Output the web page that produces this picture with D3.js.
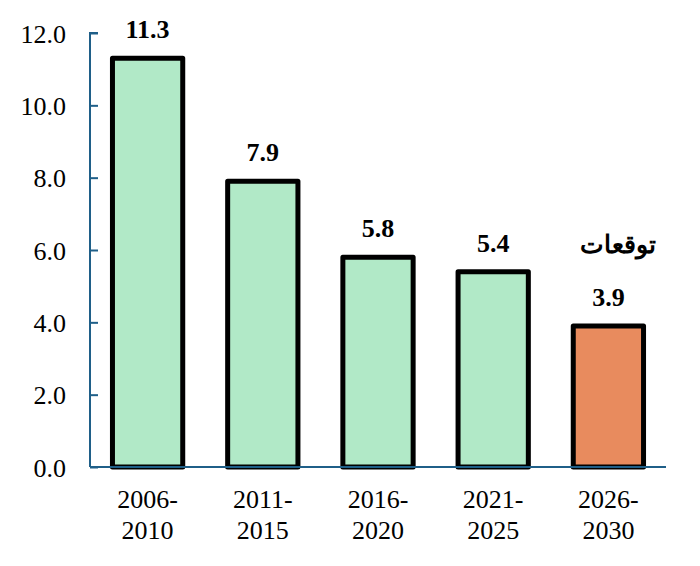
<!DOCTYPE html>
<html><head><meta charset="utf-8">
<script src="https://cdn.jsdelivr.net/npm/d3@7"></script>
<style>body{margin:0;background:#fff}</style>
</head><body>
<svg id="c" width="700" height="566"></svg>
<script>
const categories = [["2006-","2010"],["2011-","2015"],["2016-","2020"],["2021-","2025"],["2026-","2030"]];
const values = [11.3, 7.9, 5.8, 5.4, 3.9];
const valueLabels = ["11.3","7.9","5.8","5.4","3.9"];
const isForecast = [false,false,false,false,true];
const forecastLabel = "توقعات";
const yTicks = [0,2,4,6,8,10,12];

const svg = d3.select("#c");
const m = {left:90, right:34, top:33, bottom:99};
const W = 700, H = 566;
const x = d3.scaleBand().domain(d3.range(values.length)).range([m.left, W-m.right]).paddingInner(0.39).paddingOuter(0.195);
const y = d3.scaleLinear().domain([0,12]).range([H-m.bottom, m.top]);
const font = "'Liberation Serif','Times New Roman',serif";
const axisColor = "#1f5f88";

const g = svg.append("g");
g.selectAll("rect").data(values).join("rect")
  .attr("x", (d,i)=>x(i)).attr("width", x.bandwidth())
  .attr("y", d=>y(d)).attr("height", d=>y(0)-y(d))
  .attr("fill", (d,i)=>isForecast[i] ? "#e88b5e" : "#b1e9c7")
  .attr("stroke","#000").attr("stroke-width",5).attr("stroke-linejoin","round");

g.selectAll("text.val").data(values).join("text").attr("class","val")
  .attr("x",(d,i)=>x(i)+x.bandwidth()/2).attr("y",d=>y(d)-20)
  .attr("text-anchor","middle").attr("font-family",font).attr("font-weight","bold")
  .attr("font-size",26).text((d,i)=>valueLabels[i]);

const fi = isForecast.indexOf(true);
svg.append("text").attr("x", x(fi)+x.bandwidth()/2+10).attr("y", y(values[fi])-73)
  .attr("text-anchor","middle").attr("font-family",font).attr("font-weight","bold")
  .attr("font-size",25).attr("direction","rtl").text(forecastLabel);

// y axis
const ya = svg.append("g").attr("transform",`translate(${m.left},0)`)
  .call(d3.axisRight(y).tickValues(yTicks).tickSize(8).tickFormat(d=>d.toFixed(1)));
ya.select(".domain").attr("stroke",axisColor).attr("stroke-width",2).attr("d",`M8,${y(12)}H0V${y(0)}`);
ya.selectAll(".tick line").attr("stroke",axisColor).attr("stroke-width",2);
ya.selectAll(".tick text").attr("x",-24).attr("text-anchor","end").attr("dy","0.35em")
  .attr("font-family",font).attr("font-size",26).attr("fill","#000");

// x axis
svg.append("line").attr("x1",m.left).attr("x2",W-m.right).attr("y1",y(0)).attr("y2",y(0))
  .attr("stroke",axisColor).attr("stroke-width",2);
const xl = svg.append("g").selectAll("text").data(categories).join("text")
  .attr("text-anchor","middle").attr("font-family",font).attr("font-size",26).attr("fill","#000");
xl.each(function(d,i){
  const t = d3.select(this);
  const cx = x(i)+x.bandwidth()/2;
  t.append("tspan").attr("x",cx).attr("y",y(0)+41).text(d[0]);
  t.append("tspan").attr("x",cx).attr("y",y(0)+72).text(d[1]);
});
</script>
</body></html>
